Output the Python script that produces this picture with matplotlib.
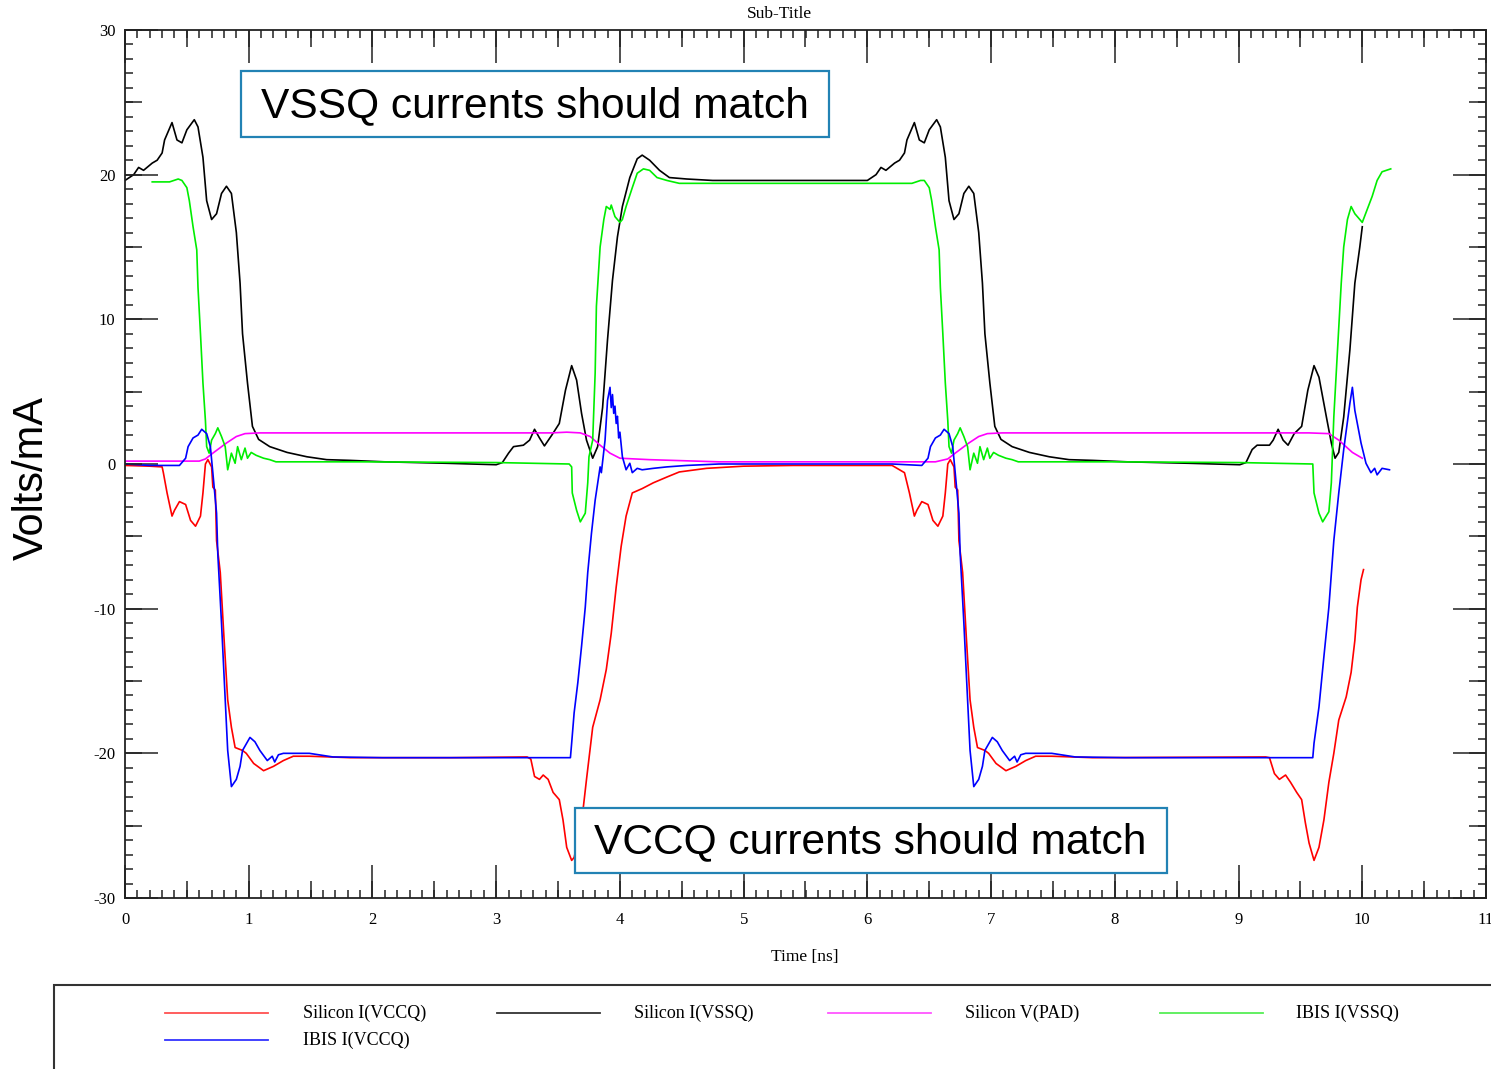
import matplotlib
matplotlib.use("Agg")
import matplotlib.pyplot as plt
from matplotlib.patches import Rectangle
from matplotlib.lines import Line2D
from matplotlib.ticker import MultipleLocator

plt.rcParams["axes.unicode_minus"] = False

# Silicon I(VCCQ)
t_si_vccq = [0.0, 0.2, 0.3, 0.31, 0.34, 0.38, 0.40, 0.44, 0.49, 0.53, 0.57, 0.61, 0.63, 0.65, 0.67, 0.70,
             0.71, 0.73, 0.74, 0.77, 0.80, 0.83, 0.86, 0.89, 0.95, 0.98, 1.04, 1.12, 1.20, 1.28, 1.36, 1.49,
             1.82, 2.63, 3.25, 3.28, 3.31, 3.35, 3.38, 3.42, 3.46, 3.51, 3.54, 3.57, 3.61, 3.63, 3.69, 3.73,
             3.78, 3.84, 3.89, 3.93, 3.97, 4.01, 4.05, 4.10, 4.18, 4.27, 4.38, 4.48, 4.70, 5.00, 5.40, 6.20,
             6.30, 6.34, 6.38, 6.40, 6.44, 6.49, 6.53, 6.57, 6.61, 6.63, 6.65, 6.67, 6.70, 6.71, 6.73, 6.74,
             6.77, 6.80, 6.83, 6.86, 6.89, 6.95, 6.98, 7.04, 7.12, 7.20, 7.28, 7.36, 7.49, 7.82, 9.22, 9.25,
             9.29, 9.33, 9.38, 9.42, 9.47, 9.51, 9.54, 9.57, 9.61, 9.65, 9.69, 9.73, 9.77, 9.81, 9.87, 9.91,
             9.94, 9.96, 9.99, 10.01]
i_si_vccq = [-0.1, -0.15, -0.2, -0.6, -2.0, -3.6, -3.2, -2.6, -2.8, -3.9, -4.3, -3.6, -2.0, 0.0, 0.3, -0.2,
             -1.6, -1.8, -5.3, -7.5, -12.0, -16.3, -18.2, -19.6, -19.8, -20.0, -20.7, -21.2, -20.9, -20.5, -20.2, -20.2,
             -20.3, -20.3, -20.25, -20.4, -21.6, -21.8, -21.5, -21.8, -22.7, -23.2, -24.6, -26.5, -27.4, -27.2, -24.8, -21.8,
             -18.2, -16.3, -14.2, -11.7, -8.5, -5.7, -3.6, -2.0, -1.7, -1.3, -0.9, -0.55, -0.3, -0.15, -0.1, -0.1,
             -0.6, -2.0, -3.6, -3.2, -2.6, -2.8, -3.9, -4.3, -3.6, -2.0, 0.0, 0.3, -0.2, -1.6, -1.8, -5.3,
             -7.5, -12.0, -16.3, -18.2, -19.6, -19.8, -20.0, -20.7, -21.2, -20.9, -20.5, -20.2, -20.2, -20.3, -20.25, -20.3,
             -21.4, -21.8, -21.5, -22.0, -22.7, -23.2, -24.8, -26.2, -27.4, -26.5, -24.6, -22.0, -20.0, -17.7, -16.1, -14.4,
             -12.2, -9.9, -8.0, -7.3]

# Silicon I(VSSQ)
t_si_vssq = [0.0, 0.07, 0.11, 0.15, 0.22, 0.26, 0.30, 0.32, 0.38, 0.42, 0.46, 0.50, 0.56, 0.59, 0.63, 0.66,
             0.70, 0.74, 0.78, 0.82, 0.86, 0.90, 0.93, 0.95, 0.99, 1.03, 1.08, 1.17, 1.31, 1.47, 1.63, 1.82,
             2.10, 2.60, 3.00, 3.05, 3.10, 3.14, 3.22, 3.27, 3.31, 3.35, 3.39, 3.45, 3.51, 3.56, 3.61, 3.65,
             3.69, 3.73, 3.78, 3.82, 3.86, 3.90, 3.94, 3.98, 4.02, 4.08, 4.14, 4.18, 4.24, 4.32, 4.40, 4.54,
             4.75, 5.50, 6.00, 6.07, 6.11, 6.15, 6.22, 6.26, 6.30, 6.32, 6.38, 6.42, 6.46, 6.50, 6.56, 6.59,
             6.63, 6.66, 6.70, 6.74, 6.78, 6.82, 6.86, 6.90, 6.93, 6.95, 6.99, 7.03, 7.08, 7.17, 7.31, 7.47,
             7.63, 7.82, 8.10, 8.60, 9.01, 9.06, 9.11, 9.15, 9.25, 9.28, 9.32, 9.36, 9.40, 9.45, 9.51, 9.56,
             9.61, 9.65, 9.71, 9.75, 9.78, 9.81, 9.85, 9.90, 9.94, 9.98, 10.00]
i_si_vssq = [19.6, 20.0, 20.5, 20.3, 20.8, 21.0, 21.5, 22.4, 23.6, 22.4, 22.2, 23.1, 23.8, 23.3, 21.2, 18.2,
             16.9, 17.3, 18.7, 19.2, 18.7, 16.0, 12.5, 9.0, 5.6, 2.6, 1.7, 1.2, 0.8, 0.5, 0.3, 0.25,
             0.15, 0.05, -0.05, 0.1, 0.75, 1.2, 1.3, 1.65, 2.4, 1.8, 1.25, 2.0, 2.8, 5.1, 6.8, 5.8,
             3.5, 1.65, 0.4, 1.2, 3.9, 8.6, 12.7, 15.7, 17.8, 19.8, 21.1, 21.35, 21.0, 20.3, 19.8, 19.7,
             19.6, 19.6, 19.6, 20.0, 20.5, 20.3, 20.8, 21.0, 21.5, 22.4, 23.6, 22.4, 22.2, 23.1, 23.8, 23.3,
             21.2, 18.2, 16.9, 17.3, 18.7, 19.2, 18.7, 16.0, 12.5, 9.0, 5.6, 2.6, 1.7, 1.2, 0.8, 0.5,
             0.3, 0.25, 0.15, 0.05, -0.05, 0.1, 1.0, 1.3, 1.3, 1.65, 2.4, 1.65, 1.3, 2.1, 2.6, 5.1,
             6.8, 6.0, 3.25, 1.45, 0.4, 0.8, 3.25, 7.9, 12.5, 15.0, 16.4]

# Silicon V(PAD)
t_si_pad = [0.0, 0.60, 0.65, 0.71, 0.82, 0.90, 0.97, 1.09, 3.45, 3.57, 3.68, 3.76, 3.84, 3.92, 4.00, 4.24,
            4.80, 6.55, 6.65, 6.71, 6.82, 6.90, 6.97, 7.09, 9.57, 9.73, 9.81, 9.92, 10.00]
v_si_pad = [0.2, 0.2, 0.35, 0.75, 1.45, 1.9, 2.1, 2.15, 2.15, 2.2, 2.15, 1.9, 1.3, 0.75, 0.4, 0.3,
            0.15, 0.15, 0.35, 0.75, 1.45, 1.9, 2.1, 2.15, 2.15, 2.1, 1.65, 0.8, 0.4]

# IBIS I(VSSQ)
t_ibis_vssq = [0.22, 0.36, 0.43, 0.46, 0.50, 0.52, 0.55, 0.58, 0.59, 0.61, 0.63, 0.65, 0.66, 0.68, 0.70, 0.73,
               0.75, 0.78, 0.81, 0.83, 0.86, 0.89, 0.91, 0.94, 0.97, 0.99, 1.02, 1.06, 1.12, 1.17, 1.22, 1.90,
               3.00, 3.59, 3.61, 3.615, 3.65, 3.68, 3.72, 3.74, 3.75, 3.78, 3.80, 3.81, 3.84, 3.87, 3.89, 3.92,
               3.93, 3.96, 4.00, 4.02, 4.05, 4.10, 4.14, 4.19, 4.24, 4.30, 4.38, 4.48, 4.75, 6.36, 6.43, 6.46,
               6.50, 6.52, 6.55, 6.58, 6.59, 6.61, 6.63, 6.65, 6.66, 6.68, 6.70, 6.73, 6.75, 6.78, 6.81, 6.83,
               6.86, 6.89, 6.91, 6.94, 6.97, 6.99, 7.02, 7.06, 7.12, 7.17, 7.22, 8.00, 9.00, 9.60, 9.61, 9.65,
               9.68, 9.73, 9.75, 9.77, 9.80, 9.83, 9.85, 9.88, 9.91, 9.94, 9.98, 10.00, 10.04, 10.08, 10.12, 10.16,
               10.23]
i_ibis_vssq = [19.5, 19.5, 19.7, 19.6, 19.1, 18.2, 16.4, 14.8, 12.2, 9.0, 5.6, 3.0, 1.2, 0.75, 1.65, 2.1,
               2.5, 1.9, 1.2, -0.4, 0.75, 0.05, 1.2, 0.3, 1.1, 0.4, 0.8, 0.6, 0.4, 0.3, 0.15, 0.15,
               0.1, 0.0, -0.2, -2.0, -3.2, -4.0, -3.4, -1.3, 0.5, 1.65, 6.3, 10.9, 15.0, 16.9, 17.8, 17.6,
               17.9, 17.1, 16.7, 16.9, 17.8, 19.1, 20.1, 20.4, 20.3, 19.8, 19.6, 19.4, 19.4, 19.4, 19.6, 19.6,
               19.1, 18.2, 16.4, 14.8, 12.2, 9.0, 5.6, 3.0, 1.2, 0.75, 1.65, 2.1, 2.5, 1.9, 1.2, -0.4,
               0.75, 0.05, 1.2, 0.3, 1.1, 0.4, 0.8, 0.6, 0.4, 0.3, 0.15, 0.15, 0.1, 0.0, -2.0, -3.4,
               -4.0, -3.3, -1.3, 3.25, 7.9, 12.5, 15.0, 16.9, 17.8, 17.3, 16.9, 16.7, 17.6, 18.5, 19.6, 20.2,
               20.4]

# IBIS I(VCCQ)
t_ibis_vccq = [0.0, 0.2, 0.44, 0.45, 0.49, 0.51, 0.55, 0.59, 0.62, 0.66, 0.69, 0.71, 0.74, 0.75, 0.78, 0.81,
               0.83, 0.86, 0.90, 0.93, 0.95, 1.01, 1.05, 1.09, 1.15, 1.19, 1.21, 1.24, 1.28, 1.36, 1.49, 1.68,
               2.08, 3.60, 3.61, 3.63, 3.66, 3.69, 3.72, 3.74, 3.77, 3.80, 3.84, 3.85, 3.88, 3.90, 3.92, 3.93,
               3.94, 3.95, 3.96, 3.97, 3.98, 3.99, 4.00, 4.02, 4.05, 4.08, 4.10, 4.14, 4.18, 4.27, 4.38, 4.54,
               4.80, 6.20, 6.44, 6.45, 6.49, 6.51, 6.55, 6.59, 6.62, 6.66, 6.69, 6.71, 6.74, 6.75, 6.78, 6.81,
               6.83, 6.86, 6.90, 6.93, 6.95, 7.01, 7.05, 7.09, 7.15, 7.19, 7.21, 7.24, 7.28, 7.36, 7.49, 7.68,
               8.08, 9.60, 9.61, 9.65, 9.69, 9.73, 9.77, 9.81, 9.85, 9.90, 9.92, 9.94, 9.96, 9.99, 10.03, 10.07,
               10.10, 10.12, 10.16, 10.22]
i_ibis_vccq = [0.0, -0.1, -0.1, 0.0, 0.4, 1.2, 1.8, 2.0, 2.4, 2.1, 1.2, -0.6, -3.4, -6.2, -11.0, -16.3,
               -19.8, -22.3, -21.8, -20.9, -19.8, -18.9, -19.2, -19.8, -20.5, -20.2, -20.6, -20.1, -20.0, -20.0, -20.0, -20.25,
               -20.3, -20.3, -19.3, -17.2, -15.1, -12.6, -9.9, -7.5, -4.8, -2.5, -0.2, -0.6, 1.65, 4.4, 5.3, 3.9,
               4.8, 3.5, 4.0, 2.8, 3.3, 1.8, 2.2, 0.5, -0.4, 0.05, -0.6, -0.3, -0.4, -0.3, -0.2, -0.1,
               0.0, 0.0, -0.1, 0.0, 0.4, 1.2, 1.8, 2.0, 2.4, 2.1, 1.2, -0.6, -3.4, -6.2, -11.0, -16.3,
               -19.8, -22.3, -21.8, -20.9, -19.8, -18.9, -19.2, -19.8, -20.5, -20.2, -20.6, -20.1, -20.0, -20.0, -20.0, -20.25,
               -20.3, -20.3, -19.3, -16.8, -13.3, -9.9, -5.3, -2.0, 1.0, 4.2, 5.3, 3.7, 2.8, 1.45, 0.05, -0.6,
               -0.3, -0.75, -0.3, -0.4]

series = [
    ("Silicon I(VCCQ)", t_si_vccq, i_si_vccq, "#ff0000"),
    ("Silicon I(VSSQ)", t_si_vssq, i_si_vssq, "#000000"),
    ("Silicon V(PAD)", t_si_pad, v_si_pad, "#ff00ff"),
    ("IBIS I(VSSQ)", t_ibis_vssq, i_ibis_vssq, "#00ee00"),
    ("IBIS I(VCCQ)", t_ibis_vccq, i_ibis_vccq, "#0000ff"),
]
legend_colors = {"Silicon I(VCCQ)": "#ff5050", "Silicon I(VSSQ)": "#333333",
                 "Silicon V(PAD)": "#ff55ff", "IBIS I(VSSQ)": "#55ee55", "IBIS I(VCCQ)": "#3333ff"}

W, H = 1491, 1069
serif = "Liberation Serif"
sans = "Liberation Sans"

fig = plt.figure(figsize=(W / 100, H / 100), dpi=100)
pos = [125 / W, 1 - 898 / H, (1486 - 125) / W, (898 - 30) / H]
ax = fig.add_axes(pos)

for name, t, v, c in series:
    ax.plot(t, v, color=c, lw=1.2)

ax.set_xlim(0, 11)
ax.set_ylim(-30, 30)
ax.xaxis.set_major_locator(MultipleLocator(1))
ax.xaxis.set_minor_locator(MultipleLocator(0.1))
ax.yaxis.set_major_locator(MultipleLocator(10))
ax.yaxis.set_minor_locator(MultipleLocator(1))
ax.tick_params(which="major", direction="in", length=24, width=1.1, color="#222222",
               top=True, right=True, labelsize=12)
ax.tick_params(which="minor", direction="in", length=6, width=1.1, color="#222222",
               top=True, right=True)
ax.tick_params(axis="x", pad=10)
ax.tick_params(axis="y", pad=7)
for lab in ax.get_xticklabels() + ax.get_yticklabels():
    lab.set_family(serif)
for sp in ax.spines.values():
    sp.set_linewidth(1.3)
    sp.set_color("#222222")

# medium ticks at half steps
ax_med = fig.add_axes(pos, frameon=False)
ax_med.set_xlim(0, 11)
ax_med.set_ylim(-30, 30)
ax_med.xaxis.set_major_locator(MultipleLocator(0.5))
ax_med.yaxis.set_major_locator(MultipleLocator(5))
ax_med.tick_params(direction="in", length=12, width=1.1, color="#222222",
                   top=True, right=True, bottom=True, left=True,
                   labelbottom=False, labelleft=False)
ax_med.patch.set_visible(False)

fig.text(779 / W, 1 - 14 / H, "Sub-Title", family=serif, fontsize=12.5, ha="center", va="center")
fig.text(805 / W, 1 - 957 / H, "Time [ns]", family=serif, fontsize=12.5, ha="center", va="center")
fig.text(32 / W, 1 - 478 / H, "Volts/mA", family=sans, fontsize=30, rotation=90, ha="center", va="center")

# callout boxes
box_col = "#2282b4"
for (x0, y0, x1, y1, tx, txt) in [(241, 71, 829, 137, 261, "VSSQ currents should match"),
                                  (575, 808, 1167, 873, 594, "VCCQ currents should match")]:
    fig.add_artist(Rectangle((x0 / W, 1 - y1 / H), (x1 - x0) / W, (y1 - y0) / H,
                             transform=fig.transFigure, facecolor="white", edgecolor=box_col,
                             lw=1.6, zorder=5))
    fig.text(tx / W, 1 - ((y0 + y1) / 2 + 2) / H, txt, family=sans, fontsize=30.6,
             ha="left", va="center", zorder=6)

# legend panel
fig.add_artist(Rectangle((54 / W, -0.05), 1.0, (1069 - 985) / H + 0.05, transform=fig.transFigure,
                         facecolor="none", edgecolor="#333333", lw=1.5))
slots = [(165, 303, 1013), (497, 634, 1013), (828, 965, 1013), (1160, 1296, 1013), (165, 303, 1040)]
for (name, t, v, c), (lx, tx, ly) in zip(series, slots):
    fig.add_artist(Line2D([lx / W, (lx + 103) / W], [1 - ly / H, 1 - ly / H],
                          transform=fig.transFigure, color=legend_colors[name], lw=1.3))
    fig.text(tx / W, 1 - ly / H, name, family=serif, fontsize=13, ha="left", va="center")

fig.savefig("out.png", dpi=100)
